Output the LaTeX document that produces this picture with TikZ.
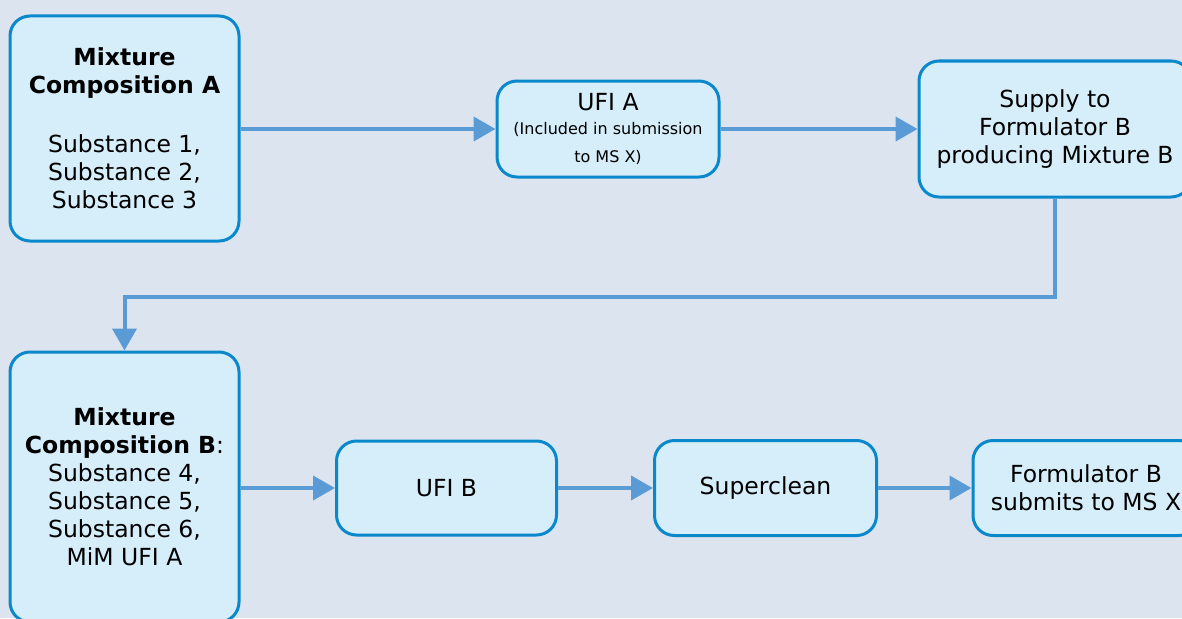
\documentclass[tikz,border=0pt]{standalone}
\usepackage{fontspec}
\setmainfont{DejaVu Sans}
\usetikzlibrary{arrows.meta}
\definecolor{bgblue}{HTML}{DCE4EF}
\definecolor{boxfill}{HTML}{D6EDFA}
\definecolor{boxline}{HTML}{0A88CC}
\definecolor{flowline}{HTML}{5B9BD5}
\newcommand{\notetext}{\fontsize{16}{26}\selectfont}
\begin{document}
\begin{tikzpicture}[x=1pt, y=-1pt,
	box/.style={draw=boxline, fill=boxfill, line width=3pt, rounded corners=20pt, align=center, inner sep=0pt, font=\fontsize{23.5}{28}\selectfont},
	flow/.style={draw=flowline, line width=4pt, -{Triangle[length=22pt, width=24pt]}}]
			%%%%% START %%%%%
			
			\fill[bgblue] (0, 0) rectangle (1182, 618);
			\clip (0, 0) rectangle (1182, 618);
			
			\node[box, minimum width=229pt, minimum height=225pt] (mixA) at (124.5, 128.5) {\textbf{Mixture}\\\textbf{Composition A}\\[31pt]Substance 1,\\Substance 2,\\Substance 3};
			\node[box, minimum width=222pt, minimum height=96pt] (ufiA) at (608, 129) {UFI A\\[-4pt]\notetext (Included in submission\\\notetext to MS X)};
			\node[box, minimum width=272pt, minimum height=136pt] (supply) at (1055, 129) {Supply to\\Formulator B\\producing Mixture B};
			
			\node[box, minimum width=229pt, minimum height=270pt] (mixB) at (124.5, 487) {\textbf{Mixture}\\\textbf{Composition B}:\\Substance 4,\\Substance 5,\\Substance 6,\\MiM UFI A};
			\node[box, minimum width=220pt, minimum height=94pt] (ufiB) at (446.5, 488) {UFI B};
			\node[box, minimum width=222pt, minimum height=95pt] (clean) at (765.5, 488) {Superclean};
			\node[box, minimum width=226pt, minimum height=95pt] (submit) at (1086, 488) {Formulator B\\submits to MS X};
			
			\coordinate (elbow) at (124.5, 297);
			
			\draw[flow] (mixA.east |- ufiA.west) -- (ufiA.west);
			\draw[flow] (ufiA) -- (supply);
			\draw[flow] (supply.south) |- (elbow) -- (mixB.north);
			\draw[flow] (mixB.east |- ufiB.west) -- (ufiB.west);
			\draw[flow] (ufiB) -- (clean);
			\draw[flow] (clean) -- (submit);
			
			%%%%% END %%%%%
		\end{tikzpicture}
\end{document}
